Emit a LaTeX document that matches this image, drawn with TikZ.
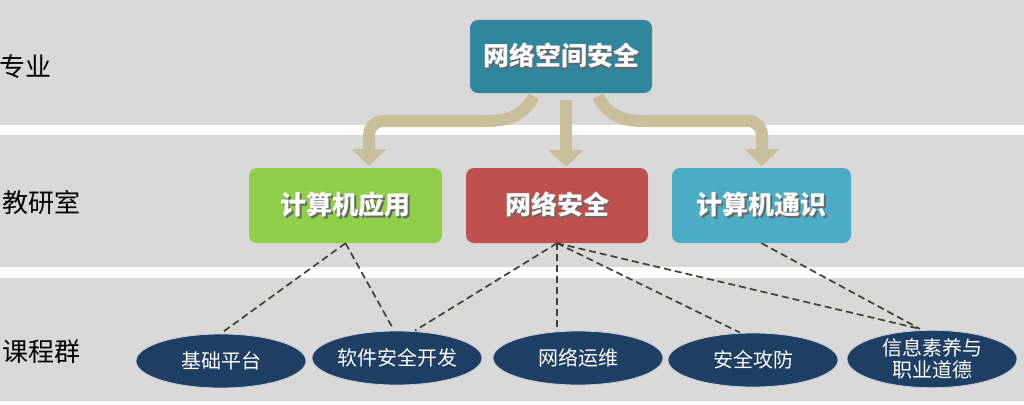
\documentclass[tikz,border=0pt]{standalone}
\usepackage{fontspec}
\setmainfont{Noto Sans CJK SC}
\usetikzlibrary{shapes.geometric,arrows.meta,calc}
\definecolor{bandgray}{RGB}{217,217,217}
\definecolor{topc}{RGB}{49,134,158}
\definecolor{greenc}{RGB}{144,207,74}
\definecolor{redc}{RGB}{192,80,77}
\definecolor{bluec}{RGB}{75,172,198}
\definecolor{navyc}{RGB}{31,62,99}
\definecolor{tanc}{RGB}{201,192,155}
\definecolor{dashc}{RGB}{66,66,52}
\newcommand{\shtxt}[1]{\makebox[0pt][l]{\hspace{1.6pt}\raisebox{-1.6pt}{\textcolor{black!60}{#1}}}#1}
\begin{document}
\begin{tikzpicture}[x=1pt,y=-1pt,
  box/.style={rounded corners=8pt, minimum height=75pt, inner sep=0pt, text=white,
    font=\fontsize{26}{30}\selectfont\bfseries},
  oval/.style={ellipse, fill=navyc, draw=white!75!navyc, line width=0.8pt, minimum width=170pt,
    minimum height=54pt, inner sep=0pt, text=white, align=center,
    font=\fontsize{20}{22}\selectfont},
  lab/.style={anchor=west, inner sep=0pt, text=black, font=\fontsize{26}{30}\selectfont},
  bigarrow/.style={draw=tanc, line width=12pt, -{Triangle[width=34pt,length=17pt]}},
  dashline/.style={draw=dashc, line width=1.7pt, dash pattern=on 7pt off 4pt}
]
\useasboundingbox (0,0) rectangle (1024,404);
\fill[white] (0,0) rectangle (1024,404);
\fill[bandgray] (0,0) rectangle (1024,125);
\fill[bandgray] (0,135) rectangle (1024,267);
\fill[bandgray] (0,278) rectangle (1024,401);

% row labels
\node[lab] (l1) at (-1,67) {专业};
\node[lab] (l2) at (2,203) {教研室};
\node[lab] (l3) at (2,352) {课程群};

% boxes
\node[box, fill=topc, minimum width=182pt, minimum height=73pt] (top) at (561,56.5) {\shtxt{网络空间安全}};
\node[box, fill=greenc, minimum width=193pt] (app) at (345.5,205.5) {\shtxt{计算机应用}};
\node[box, fill=redc, minimum width=182pt] (net) at (557,205.5) {\shtxt{网络安全}};
\node[box, fill=bluec, minimum width=179pt] (gen) at (761.5,205.5) {\shtxt{计算机通识}};

% arrows
\draw[bigarrow, rounded corners=14pt] ($(top.south)+(-27,3)$) .. controls +(-12,24) and +(30,0) .. (470,121) -- (369,121) -- (369,166);
\draw[bigarrow] ($(top.south)+(5,7)$) -- (566,167);
\draw[bigarrow, rounded corners=14pt] ($(top.south)+(37,3)$) .. controls +(12,24) and +(-30,0) .. (660,121) -- (762,121) -- (762,166);

% ellipses
\node[oval] (c1) at (221,361) {基础平台};
\node[oval] (c2) at (397,358) {软件安全开发};
\node[oval] (c3) at (578,358) {网络运维};
\node[oval] (c4) at (753,360) {安全攻防};
\node[oval] (c5) at (932,359) {信息素养与\\职业道德};

% dashed links
\coordinate (a2) at ($(c2.north)+(-4,-2)$);
\coordinate (b2) at ($(c2.north)+(18,0)$);
\coordinate (b4) at ($(c4.north)+(-13,0)$);
\coordinate (b5) at ($(c5.north)+(-12,-1)$);
\coordinate (b3) at ($(c3.north)+(-21,-1)$);
\draw[dashline] (app.south) -- ($(c1.north)+(1,-1)$);
\draw[dashline] (app.south) -- (a2);
\draw[dashline] (net.south) -- (b2);
\draw[dashline] (net.south) -- (b3);
\draw[dashline] (net.south) -- (b4);
\draw[dashline] (net.south) -- (b5);
\draw[dashline] (gen.south) -- (b5);
\end{tikzpicture}
\end{document}
